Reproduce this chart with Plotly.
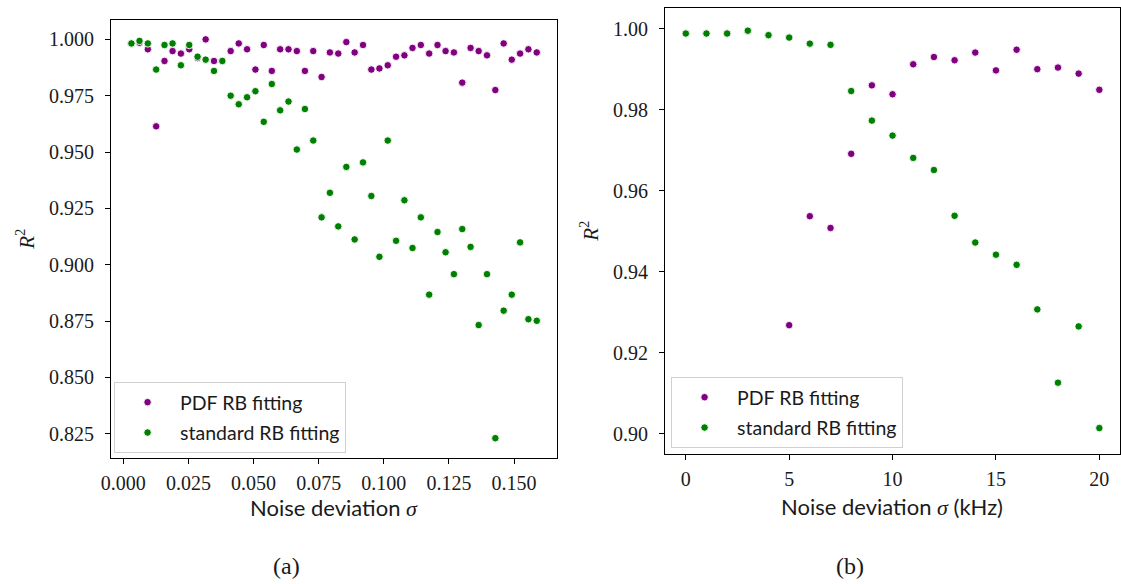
import plotly.graph_objects as go

# ---- panel (a): R^2 versus noise deviation (dimensionless sigma) ----
sigma_a = [0.0031, 0.0062, 0.0094, 0.0126, 0.0158, 0.0189, 0.0221, 0.0253, 0.0285, 0.0316,
           0.0348, 0.0380, 0.0412, 0.0443, 0.0475, 0.0507, 0.0539, 0.0570, 0.0602, 0.0634,
           0.0666, 0.0697, 0.0729, 0.0761, 0.0793, 0.0825, 0.0856, 0.0888, 0.0920, 0.0952,
           0.0983, 0.1015, 0.1047, 0.1079, 0.1110, 0.1142, 0.1174, 0.1206, 0.1237, 0.1269,
           0.1301, 0.1333, 0.1364, 0.1396, 0.1428, 0.1460, 0.1491, 0.1523, 0.1555, 0.1587]

pdf_a = [0.9982, 0.9985, 0.9956, 0.9614, 0.9904, 0.9948, 0.9937, 0.9956, 0.9917, 1.0000,
         0.9904, 0.9904, 0.9948, 0.9982, 0.9956, 0.9866, 0.9975, 0.9860, 0.9956, 0.9956,
         0.9948, 0.9860, 0.9948, 0.9833, 0.9942, 0.9937, 0.9988, 0.9942, 0.9975, 0.9866,
         0.9871, 0.9885, 0.9923, 0.9929, 0.9962, 0.9975, 0.9937, 0.9975, 0.9948, 0.9942,
         0.9808, 0.9962, 0.9948, 0.9929, 0.9775, 0.9982, 0.9910, 0.9937, 0.9956, 0.9942]

std_a = [0.9982, 0.9993, 0.9982, 0.9866, 0.9975, 0.9982, 0.9885, 0.9975, 0.9923, 0.9910,
         0.9860, 0.9904, 0.9750, 0.9712, 0.9743, 0.9770, 0.9634, 0.9802, 0.9685, 0.9724,
         0.9511, 0.9691, 0.9551, 0.9210, 0.9319, 0.9170, 0.9434, 0.9112, 0.9454, 0.9305,
         0.9035, 0.9551, 0.9106, 0.9286, 0.9074, 0.9210, 0.8867, 0.9145, 0.9055, 0.8958,
         0.9158, 0.9079, 0.8732, 0.8958, 0.8230, 0.8796, 0.8867, 0.9099, 0.8758, 0.8751]

# ---- panel (b): R^2 versus noise deviation in kHz ----
sigma_b = [0, 1, 2, 3, 4, 5, 6, 7, 8, 9, 10, 11, 12, 13, 14, 15, 16, 17, 18, 19, 20]

pdf_b = [0.9988, 0.9988, 0.9988, 0.9995, 0.9984, 0.9268, 0.9537, 0.9508, 0.9691, 0.9860,
         0.9838, 0.9912, 0.9930, 0.9922, 0.9941, 0.9897, 0.9948, 0.9900, 0.9904, 0.9889,
         0.9849]

std_b = [0.9988, 0.9988, 0.9988, 0.9995, 0.9984, 0.9978, 0.9963, 0.9960, 0.9846, 0.9773,
         0.9736, 0.9681, 0.9651, 0.9538, 0.9472, 0.9442, 0.9417, 0.9307, 0.9126, 0.9265,
         0.9014]

names = ["PDF RB fitting", "standard RB fitting"]
colors = ["#800080", "#008000"]

W, H = 1121, 584
SERIF = "Liberation Serif"
SANS = "Lato"
INK = "#1a1a1a"


def px_x(p):
    return p / W


def px_y(p):
    return 1 - p / H


fig = go.Figure()

panels = [
    (sigma_a, [pdf_a, std_a], "x", "y", "legend"),
    (sigma_b, [pdf_b, std_b], "x2", "y2", "legend2"),
]
for xs, series, xa, ya, lg in panels:
    for name, vals, col in zip(names, series, colors):
        fig.add_trace(go.Scatter(
            x=xs, y=vals, mode="markers", name=name,
            xaxis=xa, yaxis=ya, legend=lg, legendgroup=name,
            marker=dict(color=col, size=7.5, line=dict(color="white", width=0.9)),
        ))


def axis(**kw):
    base = dict(
        showgrid=False, zeroline=False, showline=True, mirror=True,
        linecolor="black", linewidth=1.3,
        ticks="outside", ticklen=5, tickwidth=1.1, tickcolor="black",
        tickfont=dict(family=SERIF, size=20, color=INK),
    )
    base.update(kw)
    return base


fig.update_layout(
    width=W, height=H,
    margin=dict(l=0, r=0, t=0, b=0),
    paper_bgcolor="white", plot_bgcolor="white",
    xaxis=axis(domain=[px_x(102), px_x(552)], range=[-0.0047, 0.1665],
               tickvals=[0.0, 0.025, 0.05, 0.075, 0.1, 0.125, 0.15],
               ticktext=["0.000", "0.025", "0.050", "0.075", "0.100", "0.125", "0.150"],
               anchor="y", ticklabelstandoff=2),
    yaxis=axis(domain=[px_y(458), px_y(20)], range=[0.8142, 1.0086],
               tickvals=[0.825, 0.85, 0.875, 0.9, 0.925, 0.95, 0.975, 1.0],
               ticktext=["0.825", "0.850", "0.875", "0.900", "0.925", "0.950", "0.975", "1.000"],
               anchor="x", ticklabelstandoff=7),
    xaxis2=axis(domain=[px_x(661), px_x(1120)], range=[-1, 21],
                tickvals=[0, 5, 10, 15, 20], anchor="y2", ticklabelstandoff=2),
    yaxis2=axis(domain=[px_y(454), px_y(8)], range=[0.8950, 1.0051],
                tickvals=[0.90, 0.92, 0.94, 0.96, 0.98, 1.00],
                ticktext=["0.90", "0.92", "0.94", "0.96", "0.98", "1.00"],
                anchor="x2", ticklabelstandoff=7),
    showlegend=True,
)

legend_common = dict(
    bgcolor="rgba(255,255,255,0.8)", bordercolor="#d0d0d0", borderwidth=1,
    font=dict(family=SANS, size=19.5, color=INK),
    xanchor="left", yanchor="top", xref="paper", yref="paper",
    itemwidth=55, tracegroupgap=2,
)
fig.update_layout(
    legend=dict(x=px_x(105), y=px_y(382), **legend_common),
    legend2=dict(x=px_x(667), y=px_y(377), **legend_common),
)

ann = []
sigma_html = f"<span style='font-family:\"{SERIF}\"'><i>σ</i></span>"
r2_html = "<i>R</i><sup>2</sup>"
ann.append(dict(text=f"Noise deviation {sigma_html}", x=px_x(327), y=px_y(507),
                font=dict(family=SANS, size=22, color=INK)))
ann.append(dict(text=f"Noise deviation {sigma_html} (kHz)", x=px_x(890), y=px_y(506),
                font=dict(family=SANS, size=22, color=INK)))
ann.append(dict(text=r2_html, x=px_x(15), y=px_y(239), textangle=-90,
                font=dict(family=SERIF, size=21, color=INK)))
ann.append(dict(text=r2_html, x=px_x(584), y=px_y(231), textangle=-90,
                font=dict(family=SERIF, size=21, color=INK)))
ann.append(dict(text="(a)", x=px_x(279), y=px_y(566),
                font=dict(family=SERIF, size=24, color=INK)))
ann.append(dict(text="(b)", x=px_x(848), y=px_y(566),
                font=dict(family=SERIF, size=24, color=INK)))
for a in ann:
    a.update(xref="paper", yref="paper", showarrow=False,
             xanchor="center", yanchor="middle")
fig.update_layout(annotations=ann)

fig.write_html("out.html")
